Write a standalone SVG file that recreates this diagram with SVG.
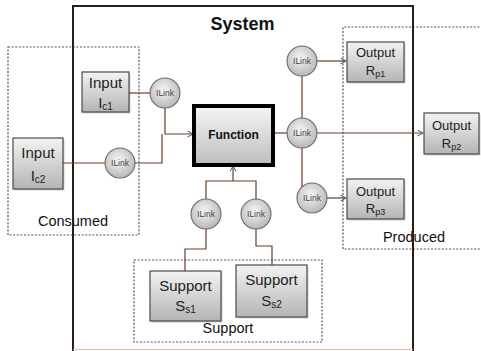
<svg xmlns="http://www.w3.org/2000/svg" width="481" height="351" viewBox="0 0 481 351">
<style>
.grp{fill:none;stroke:#555;stroke-width:1.2;stroke-dasharray:2 1.6}
.lbl{font-family:"Liberation Sans",Arial,sans-serif;font-size:14.5px;fill:#111;text-anchor:middle}
.box{fill:url(#gBox);stroke:#4a4a4a;stroke-width:1.2}
.shd{fill:#000;opacity:0.18}
.nt{font-family:"Liberation Sans",Arial,sans-serif;fill:#222;text-anchor:middle}
.il{fill:url(#gCirc);stroke:#6a6a6a;stroke-width:1.1}
.ilt{font-family:"Liberation Sans",Arial,sans-serif;font-size:8.5px;fill:#444;text-anchor:middle}
.c{fill:none;stroke:#6e3b2c;stroke-width:1.2}
.a{marker-end:url(#arr)}
</style>
<defs>
<linearGradient id="gBox" x1="0" y1="0" x2="0" y2="1">
<stop offset="0" stop-color="#f3f3f3"/>
<stop offset="1" stop-color="#b4b4b4"/>
</linearGradient>
<linearGradient id="gFn" x1="0" y1="0" x2="0" y2="1">
<stop offset="0" stop-color="#f6f6f6"/>
<stop offset="1" stop-color="#bdbdbd"/>
</linearGradient>
<radialGradient id="gCirc" cx="0.45" cy="0.4" r="0.6">
<stop offset="0" stop-color="#f6f6f6"/>
<stop offset="1" stop-color="#b8b8b8"/>
</radialGradient>
<marker id="arr" markerWidth="8" markerHeight="8" refX="6" refY="3.5" orient="auto" markerUnits="userSpaceOnUse">
<path d="M0.5,0.5 L6,3.5 L0.5,6.5" fill="none" stroke="#555" stroke-width="1"/>
</marker>
</defs>
<rect width="481" height="351" fill="#fff"/>

<g id="consumed">
<rect class="grp" x="8" y="47" width="131" height="188"/>
<text class="lbl" x="73" y="226">Consumed</text>
</g>
<g id="produced">
<path class="grp" d="M483,27 H343 V249 H483"/>
<text class="lbl" x="414" y="242">Produced</text>
</g>
<g id="support">
<rect class="grp" x="134" y="260" width="188" height="82"/>
<text class="lbl" x="228" y="333">Support</text>
</g>

<g id="system">
<path d="M73,351 V6 H413 V351" fill="none" stroke="#2a1c18" stroke-width="2"/>
<line x1="73" y1="349.5" x2="413" y2="349.5" stroke="#f0b8a8" stroke-width="1.2"/>
<text x="242.5" y="30" font-family="'Liberation Sans',Arial,sans-serif" font-size="18" font-weight="bold" fill="#111" text-anchor="middle">System</text>
</g>

<g id="connectors">
<path class="c" d="M129,93 H150"/>
<path class="c a" d="M165,108 V134 H193"/>
<path class="c" d="M63,163 H105"/>
<path class="c" d="M135,163 H162 V134"/>
<path class="c" d="M273,133 H287"/>
<path class="c" d="M302,118 V76"/>
<path class="c a" d="M317,61 H346"/>
<path class="c a" d="M317,133 H423"/>
<path class="c" d="M302,148 V187"/>
<path class="c a" d="M327,198 H346"/>
<path class="c" d="M206,199 V181 H256 V199"/>
<path class="c a" d="M233,181 V166"/>
<path class="c" d="M185,271 V249 H206 V229"/>
<path class="c" d="M272,265 V246 H256 V229"/>
</g>

<g id="input-c1">
<rect class="shd" x="83.5" y="73.5" width="47" height="40"/>
<rect class="box" x="82" y="72" width="47" height="40"/>
<text class="nt" x="105.5" y="88" font-size="15">Input</text>
<text class="nt" x="105.5" y="108" font-size="15">I<tspan font-size="10" dy="2">c1</tspan></text>
</g>
<g id="input-c2">
<rect class="shd" x="14.5" y="139.5" width="50" height="51"/>
<rect class="box" x="13" y="138" width="50" height="51"/>
<text class="nt" x="38" y="158" font-size="15">Input</text>
<text class="nt" x="38" y="181" font-size="15">I<tspan font-size="10" dy="2">c2</tspan></text>
</g>
<g id="function">
<rect x="194" y="106" width="79" height="59" fill="url(#gFn)" stroke="#000" stroke-width="4"/>
<text x="233.5" y="139" font-family="'Liberation Sans',Arial,sans-serif" font-size="12" font-weight="bold" fill="#111" text-anchor="middle">Function</text>
</g>
<g id="output-p1">
<rect class="shd" x="348.5" y="43.5" width="57" height="40"/>
<rect class="box" x="347" y="42" width="57" height="40"/>
<text class="nt" x="375.5" y="57" font-size="13">Output</text>
<text class="nt" x="375.5" y="75" font-size="13">R<tspan font-size="9" dy="2">p1</tspan></text>
</g>
<g id="output-p2">
<rect class="shd" x="425.5" y="114.5" width="55" height="41"/>
<rect class="box" x="424" y="113" width="55" height="41"/>
<text class="nt" x="451.5" y="130" font-size="13">Output</text>
<text class="nt" x="451.5" y="148" font-size="13">R<tspan font-size="9" dy="2">p2</tspan></text>
</g>
<g id="output-p3">
<rect class="shd" x="348.5" y="180.5" width="57" height="40"/>
<rect class="box" x="347" y="179" width="57" height="40"/>
<text class="nt" x="375.5" y="196" font-size="13">Output</text>
<text class="nt" x="375.5" y="213" font-size="13">R<tspan font-size="9" dy="2">p3</tspan></text>
</g>
<g id="support-s1">
<rect class="shd" x="151.5" y="272.5" width="71" height="50"/>
<rect class="box" x="150" y="271" width="71" height="50"/>
<text class="nt" x="185.5" y="291" font-size="15">Support</text>
<text class="nt" x="185.5" y="311" font-size="15">S<tspan font-size="10" dy="2">s1</tspan></text>
</g>
<g id="support-s2">
<rect class="shd" x="237.5" y="266.5" width="71" height="52"/>
<rect class="box" x="236" y="265" width="71" height="52"/>
<text class="nt" x="271.5" y="285" font-size="15">Support</text>
<text class="nt" x="271.5" y="306" font-size="15">S<tspan font-size="10" dy="2">s2</tspan></text>
</g>

<g id="ilink-c1"><circle class="il" cx="165" cy="93" r="15"/><text class="ilt" x="165" y="96">ILink</text></g>
<g id="ilink-c2"><circle class="il" cx="120" cy="163" r="15"/><text class="ilt" x="120" y="166">ILink</text></g>
<g id="ilink-p1"><circle class="il" cx="302" cy="61" r="15"/><text class="ilt" x="302" y="64">ILink</text></g>
<g id="ilink-p2"><circle class="il" cx="302" cy="133" r="15"/><text class="ilt" x="302" y="136">ILink</text></g>
<g id="ilink-p3"><circle class="il" cx="312" cy="198" r="15"/><text class="ilt" x="312" y="201">ILink</text></g>
<g id="ilink-s1"><circle class="il" cx="206" cy="214" r="15"/><text class="ilt" x="206" y="217">ILink</text></g>
<g id="ilink-s2"><circle class="il" cx="256" cy="214" r="15"/><text class="ilt" x="256" y="217">ILink</text></g>
</svg>
